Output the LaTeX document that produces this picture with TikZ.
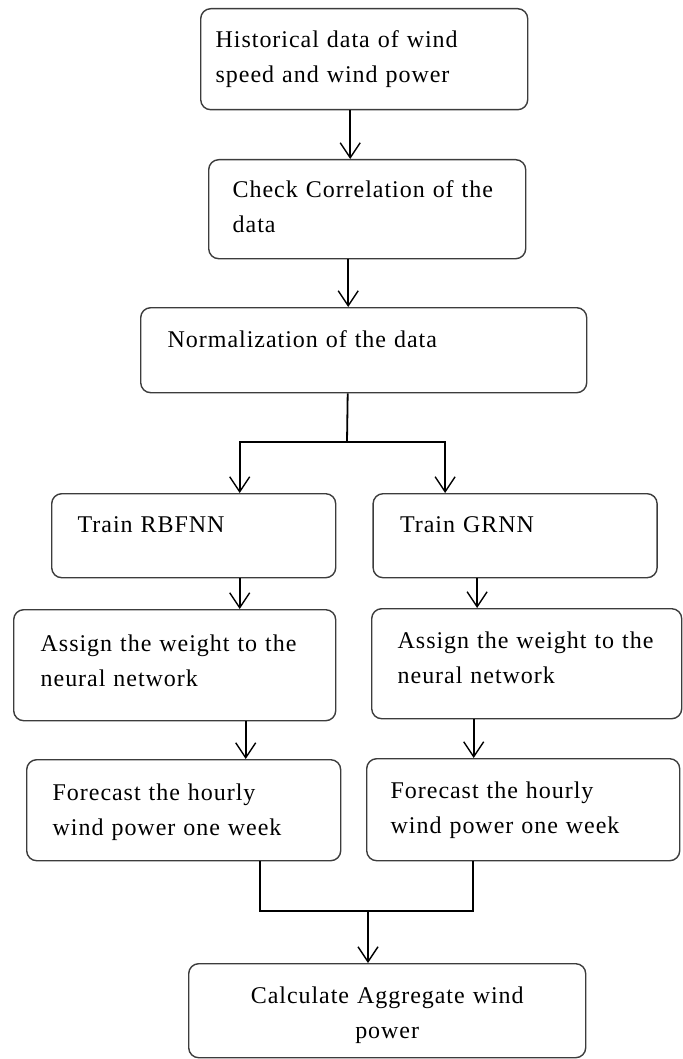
\documentclass[tikz,border=0pt]{standalone}
\usepackage{fontspec}
\setmainfont{Liberation Serif}[LetterSpace=4]
\usepackage{tikz}
\usetikzlibrary{arrows.meta, positioning}
\definecolor{boxline}{RGB}{60,60,60}

\begin{document}
\begin{tikzpicture}[
  x=1pt, y=1pt,
  flowbox/.style={rectangle, rounded corners=10pt, draw=boxline, line width=1.4pt,
                  anchor=north west, inner ysep=0pt, align=left,
                  font=\fontsize{24}{35}\selectfont},
  arrow/.style={-{Straight Barb[length=15pt, width=20pt, line width=1.4pt]}, line width=1.8pt, color=black},
  line/.style={line width=1.8pt, color=black}
]
\useasboundingbox (0,0) rectangle (682,-1059);

% --- Data preparation ---
\node[flowbox, inner xsep=15pt, text width=297pt, text height=39pt, text depth=62pt]
  (hist) at (200,-8) {Historical data of wind\\speed and wind power};
\node[flowbox, inner xsep=24pt, text width=269pt, text height=38pt, text depth=61pt]
  (corr) at (208,-159) {Check Correlation of the\\data};
\node[flowbox, inner xsep=27pt, text width=392pt, text height=40pt, text depth=45pt]
  (norm) at (140,-307) {Normalization of the data};

% --- Two networks ---
\node[flowbox, inner xsep=26pt, text width=232pt, text height=39pt, text depth=45pt]
  (rbf) at (51,-493) {Train RBFNN};
\node[flowbox, inner xsep=27pt, text width=230pt, text height=39pt, text depth=45pt,
      right=36pt of rbf.north east, anchor=north west] (grnn) {Train GRNN};

\node[flowbox, inner xsep=27pt, text width=268pt, text height=42pt, text depth=69pt]
  (assL) at (13,-609) {Assign the weight to the\\neural network};
\node[flowbox, inner xsep=26pt, text width=258pt, text height=40pt, text depth=70pt]
  (assR) at (371,-608) {Assign the weight to the\\neural network};

\node[flowbox, inner xsep=26pt, text width=262pt, text height=41pt, text depth=60pt]
  (forL) at (26,-759) {Forecast the hourly\\wind power one week};
\node[flowbox, inner xsep=24pt, text width=265pt, text height=40pt, text depth=62pt]
  (forR) at (366,-758) {Forecast the hourly\\wind power one week};

% --- Result ---
\node[flowbox, inner xsep=10pt, text width=377pt, text height=40pt, text depth=54pt, align=center]
  (calc) at (188,-963) {Calculate Aggregate wind\\power};

\coordinate (fork) at (347,-442);
\coordinate (join) at (368,-911);

% Arrows
\draw[arrow] ([xshift=-14pt]hist.south) -- ([xshift=-14pt]hist.south |- corr.north);
\draw[arrow] ([xshift=-19pt]corr.south) -- ([xshift=-19pt]corr.south |- norm.north);
\draw[line]  ([xshift=-16pt]norm.south) -- (fork);
\draw[arrow] (fork) -| ([xshift=46pt]rbf.north);
\draw[arrow] (fork) -| ([xshift=-70pt]grnn.north);

\draw[arrow] ([xshift=46pt]rbf.south) -- ([xshift=46pt]rbf.south |- assL.north);
\draw[arrow] ([xshift=-38pt]grnn.south) -- ([xshift=-38pt]grnn.south |- assR.north);
\draw[arrow] ([xshift=71pt]assL.south) -- ([xshift=71pt]assL.south |- forL.north);
\draw[arrow] ([xshift=-53pt]assR.south) -- ([xshift=-53pt]assR.south |- forR.north);

\draw[line]  ([xshift=76pt]forL.south) |- (join) -| ([xshift=-50pt]forR.south);
\draw[arrow] (join) -- (join |- calc.north);

\end{tikzpicture}
\end{document}
